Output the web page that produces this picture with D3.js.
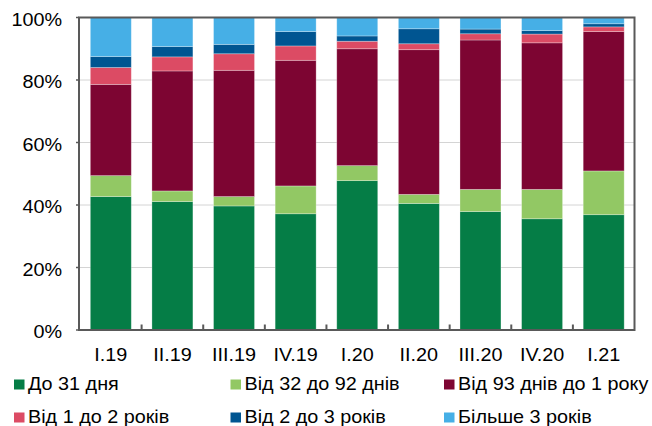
<!DOCTYPE html>
<html>
<head>
<meta charset="utf-8">
<script src="https://cdn.jsdelivr.net/npm/d3@7"></script>
<style>
  html, body { margin: 0; padding: 0; background: #fff; }
  svg { display: block; }
  text { font-family: "Liberation Sans", Arial, sans-serif; fill: #000; }
</style>
</head>
<body>
<svg id="chart" width="652" height="426"></svg>
<script>
// Quarters on the x axis
const quarters = ["I.19", "II.19", "III.19", "IV.19", "I.20", "II.20", "III.20", "IV.20", "I.21"];

// Share of each maturity bucket, % of total
const upTo31Days      = [42.7, 41.1, 39.7, 37.2, 47.8, 40.5, 37.9, 35.6, 36.9];
const days32to92      = [ 6.7,  3.4,  3.0,  8.9,  4.8,  2.9,  7.1,  9.4, 14.0];
const days93to1Year   = [29.2, 38.4, 40.4, 40.2, 37.4, 46.3, 47.8, 46.9, 44.6];
const years1to2       = [ 5.4,  4.5,  5.3,  4.6,  2.4,  1.9,  2.0,  2.8,  1.5];
const years2to3       = [ 3.5,  3.3,  3.0,  4.6,  1.7,  4.8,  1.5,  1.1,  1.0];
const over3Years      = [12.5,  9.3,  8.6,  4.5,  5.9,  3.6,  3.7,  4.2,  2.0];

const seriesNames = ["До 31 дня", "Від 32 до 92 днів", "Від 93 днів до 1 року",
                     "Від 1 до 2 років", "Від 2 до 3 років", "Більше 3 років"];
const seriesValues = [upTo31Days, days32to92, days93to1Year, years1to2, years2to3, over3Years];
const seriesColors = ["#057d46", "#92c864", "#7d0532", "#dc4b64", "#005591", "#46afe6"];

const yTicks = [0, 20, 40, 60, 80, 100];

const svg = d3.select("#chart");
const plot = { left: 80, right: 634.5, top: 17.5, bottom: 330 };

const x = d3.scaleBand().domain(quarters).range([plot.left, plot.right]).paddingInner(0.335).paddingOuter(0.1675);
const band = d3.scaleBand().domain(quarters).range([plot.left, plot.right]);
const y = d3.scaleLinear().domain([0, 100]).range([plot.bottom, plot.top]);

// Text is drawn slightly wide, like the original report typography
const stretch = 1.1;
function label(g, tx, ty, str, anchor, size) {
  return g.append("text")
    .attr("transform", `translate(${tx},${ty}) scale(${stretch},1)`)
    .attr("text-anchor", anchor)
    .style("font-size", size + "px")
    .text(str);
}

// Gridlines
svg.append("g").selectAll("line")
  .data(yTicks.filter(t => t > 0 && t < 100))
  .join("line")
  .attr("x1", plot.left).attr("x2", plot.right)
  .attr("y1", d => y(d)).attr("y2", d => y(d))
  .attr("stroke", "#d4d4d4").attr("stroke-width", 1);

// Stacked bars
const table = quarters.map((q, i) => {
  const row = { q };
  seriesNames.forEach((s, k) => row[s] = seriesValues[k][i]);
  return row;
});
const stacked = d3.stack().keys(seriesNames)(table);

svg.append("g").selectAll("g")
  .data(stacked)
  .join("g")
  .attr("fill", (d, k) => seriesColors[k])
  .selectAll("rect")
  .data(d => d)
  .join("rect")
  .attr("x", d => x(d.data.q))
  .attr("width", x.bandwidth())
  .attr("y", d => y(d[1]))
  .attr("height", d => y(d[0]) - y(d[1]))
  .attr("stroke", "rgba(255,255,255,0.35)")
  .attr("stroke-width", 0.8);

// Frame
const axisColor = "#595959";
svg.append("rect")
  .attr("x", plot.left - 1).attr("y", plot.top)
  .attr("width", plot.right - plot.left + 1).attr("height", plot.bottom - plot.top)
  .attr("fill", "none").attr("stroke", axisColor).attr("stroke-width", 2);

// Y axis ticks and labels
const yAxis = svg.append("g");
yTicks.forEach(t => {
  yAxis.append("line")
    .attr("x1", plot.left - 4).attr("x2", plot.left - 1)
    .attr("y1", y(t)).attr("y2", y(t))
    .attr("stroke", axisColor).attr("stroke-width", 1.5);
  label(yAxis, 62, y(t) + 8, t + "%", "end", 18);
});

// X axis ticks between quarters and labels
const xAxis = svg.append("g");
quarters.forEach((q, i) => {
  if (i > 0) {
    xAxis.append("line")
      .attr("x1", band(q)).attr("x2", band(q))
      .attr("y1", plot.bottom).attr("y2", plot.bottom - 5.5)
      .attr("stroke", axisColor).attr("stroke-width", 2);
  }
  label(xAxis, band(q) + band.bandwidth() / 2, 361, q, "middle", 18);
});

// Legend: two rows of three
const legendCols = [14, 230.5, 444];
const legendRows = [389.5, 422.5];
const legend = svg.append("g");
seriesNames.forEach((name, k) => {
  const lx = legendCols[k % 3];
  const ly = legendRows[Math.floor(k / 3)];
  legend.append("rect")
    .attr("x", lx).attr("y", ly - 10)
    .attr("width", 10.5).attr("height", 10)
    .attr("fill", seriesColors[k]);
  label(legend, lx + 14, ly, name, "start", 18);
});
</script>
</body>
</html>
